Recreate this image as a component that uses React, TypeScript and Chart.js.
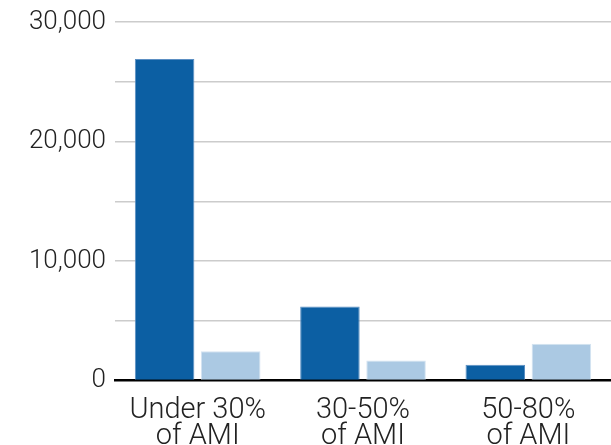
import React, { useEffect, useRef } from "react";
import { Chart, registerables } from "chart.js";

Chart.register(...registerables);

const categories: string[][] = [
  ["Under 30%", "of AMI"],
  ["30-50%", "of AMI"],
  ["50-80%", "of AMI"],
];
const seriesDark: number[] = [26900, 6200, 1320];
const seriesLight: number[] = [2450, 1680, 3070];
const yMin = 0;
const yMax = 30000;
const yStep = 5000;
const yLabelEvery = 10000;

export default function App() {
  const ref = useRef<HTMLCanvasElement | null>(null);

  useEffect(() => {
    if (!ref.current) return;
    const yFont = { family: "Roboto", size: 26, weight: 300 as any, lineHeight: 1.0 };
    const xFont = { family: "Roboto", size: 29, weight: 300 as any, lineHeight: 0.9 };
    const chart = new Chart(ref.current, {
      type: "bar",
      data: {
        labels: categories,
        datasets: [
          {
            label: "Series 1",
            data: seriesDark,
            backgroundColor: "#0c5fa3",
            borderColor: "#5b8fc3",
            borderWidth: 1,
            categoryPercentage: 0.8,
            barPercentage: 0.9,
          },
          {
            label: "Series 2",
            data: seriesLight,
            backgroundColor: "#abc9e3",
            borderColor: "#d4e3f1",
            borderWidth: 1,
            categoryPercentage: 0.8,
            barPercentage: 0.9,
          },
        ],
      },
      options: {
        animation: false,
        responsive: false,
        maintainAspectRatio: false,
        layout: { padding: { top: 21, right: 0, left: 0, bottom: 0 } },
        plugins: { legend: { display: false }, tooltip: { enabled: false } },
        scales: {
          x: {
            z: 1,
            grid: { display: false, drawTicks: false },
            border: { display: true, color: "#000000", width: 2.5 },
            ticks: { color: "#222222", font: xFont, padding: 17, maxRotation: 0 },
            afterFit: (s: any) => {
              s.height = 470 - 380.5;
            },
          },
          y: {
            min: yMin,
            max: yMax,
            grid: {
              drawTicks: false,
              lineWidth: 1.5,
              color: (ctx: any) => (ctx.tick && ctx.tick.value === 0 ? "rgba(0,0,0,0)" : "#cccccc"),
            },
            border: { display: false },
            ticks: {
              stepSize: yStep,
              padding: 9,
              color: "#222222",
              font: yFont,
              callback: (v: any) => (Number(v) % yLabelEvery === 0 ? Number(v).toLocaleString("en-US") : ""),
            },
            afterFit: (s: any) => {
              s.width = 115;
            },
          },
        },
      },
    });
    return () => chart.destroy();
  }, []);

  return (
    <div style={{ position: "fixed", left: 0, top: 0, width: 611, height: 445, overflow: "hidden", background: "#fff" }}>
      <canvas ref={ref} width={611} height={470} style={{ width: 611, height: 470, display: "block" }} />
    </div>
  );
}
